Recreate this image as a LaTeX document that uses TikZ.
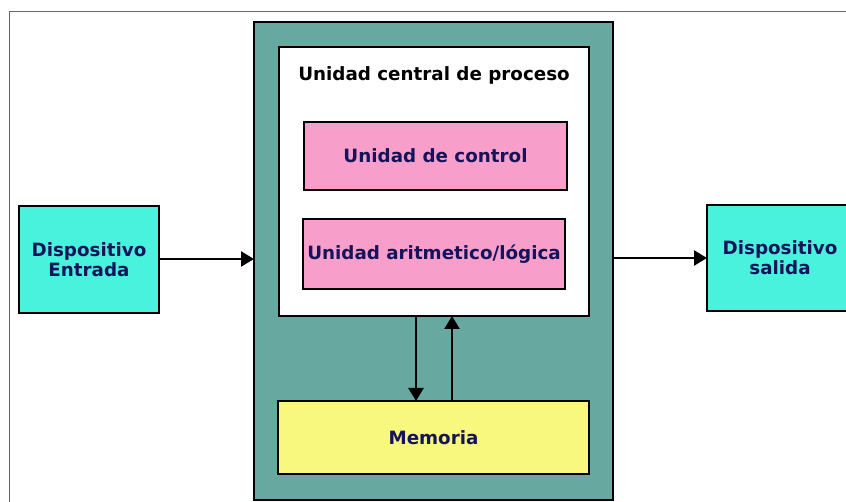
\documentclass[tikz,border=0pt]{standalone}
\usepackage{fontspec}
\setmainfont{DejaVu Sans}
\usetikzlibrary{arrows.meta}

\definecolor{shell}{HTML}{67A9A0}
\definecolor{device}{HTML}{48F2DC}
\definecolor{unit}{HTML}{F79ECA}
\definecolor{memory}{HTML}{F8F87E}
\definecolor{ink}{HTML}{14145A}
\definecolor{framegray}{HTML}{666666}

\tikzset{
  box/.style={draw=black, line width=2.5pt, rectangle, inner sep=0pt, outer sep=0pt,
              align=center, font=\bfseries\fontsize{18.3}{20}\selectfont, text=ink},
  flow/.style={draw=black, line width=2.4pt, -{Triangle[length=13pt,width=15pt]}},
}

\begin{document}
\begin{tikzpicture}[x=1pt, y=-1pt]
  \useasboundingbox (0,0) rectangle (846,502);
  \clip (0,0) rectangle (846,502);
  \fill[white] (0,0) rectangle (846,502);

  % outer page frame
  \draw[framegray, line width=1.2pt] (9.5,560) -- (9.5,11.5) -- (900,11.5);

  % computer shell and processor
  \node[box, fill=shell, minimum width=359pt, minimum height=478pt, anchor=north west] (shell) at (254,22) {};
  \node[box, fill=white, minimum width=310pt, minimum height=269pt, anchor=north west] (cpu) at (279,47) {};
  \node[font=\bfseries\fontsize{18.3}{20}\selectfont, text=black] (cputitle) at (434,75) {Unidad central de proceso};

  \node[box, fill=unit, minimum width=263pt, minimum height=68pt, anchor=north west] (cu) at (304,122) {Unidad de control};
  \node[box, fill=unit, minimum width=262pt, minimum height=70pt, anchor=north west] (alu) at (303,219) {Unidad aritmetico/lógica};

  \node[box, fill=memory, minimum width=311pt, minimum height=73pt, anchor=north west] (mem) at (278,401) {Memoria};

  % input and output devices
  \node[box, fill=device, minimum width=140pt, minimum height=107pt, anchor=north west] (in) at (19,206) {Dispositivo\\Entrada};
  \node[box, fill=device, minimum width=146pt, minimum height=106pt, anchor=north west] (out) at (707,205) {Dispositivo\\salida};

  % data flow
  \draw[flow] (in.east |- 0,259) -- (shell.west |- 0,259);
  \draw[flow] (shell.east |- 0,258) -- (out.west |- 0,258);
  \draw[flow] (cpu.south -| 416,0) -- (mem.north -| 416,0);
  \draw[flow] (mem.north -| 452,0) -- (cpu.south -| 452,0);
\end{tikzpicture}
\end{document}
